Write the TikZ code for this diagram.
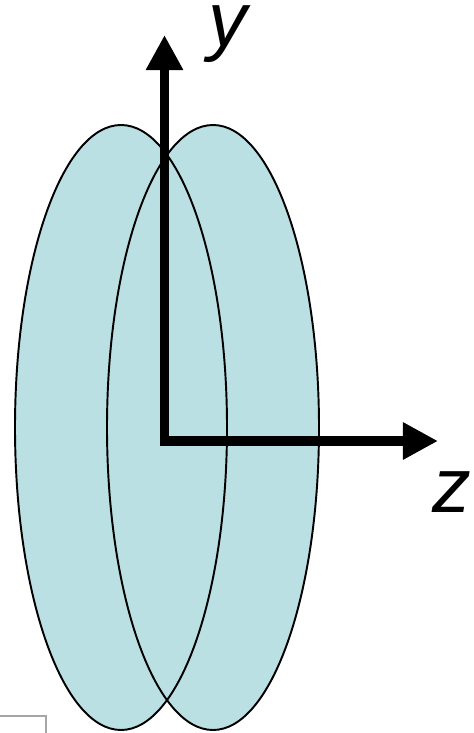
\documentclass[tikz,border=0pt]{standalone}
\usepackage{fontspec}
\setmainfont{Liberation Sans}
\usetikzlibrary{arrows.meta}
\definecolor{disc}{RGB}{186,224,228}
\tikzset{
  discfill/.style={fill=disc, draw=none},
  discline/.style={draw=black, line width=1.1pt},
  axis/.style={line width=5.6pt, line join=miter, -{Triangle[length=20pt,width=20pt]}},
  lbl/.style={font=\fontsize{44}{44}\selectfont\itshape, inner sep=0pt}
}
\begin{document}
\begin{tikzpicture}[x=0.02cm,y=-0.02cm]
\useasboundingbox (0,0) rectangle (473,733);
% filled discs
\fill[discfill] (121,427.5) ellipse [x radius=106, y radius=302.5];
\fill[discfill] (213,427.5) ellipse [x radius=106, y radius=302.5];
\draw[discline] (121,427.5) ellipse [x radius=106, y radius=302.5];
\draw[discline] (213,427.5) ellipse [x radius=106, y radius=302.5];
% axes
\coordinate (O) at (164.5,441);
\coordinate (Y) at (164.5,35);
\coordinate (Z) at (438,441);
\draw[axis] (Y |- O) ++(0,4.5) -- (Y);
\draw[axis] (O) -- (Z);
\node[lbl] (ylab) at (228,34) {y};
\node[lbl] (zlab) at (452,492) {z};
% small box
\draw[draw=gray!70, line width=0.8pt] (-2,716) rectangle (46,740);
\end{tikzpicture}
\end{document}
